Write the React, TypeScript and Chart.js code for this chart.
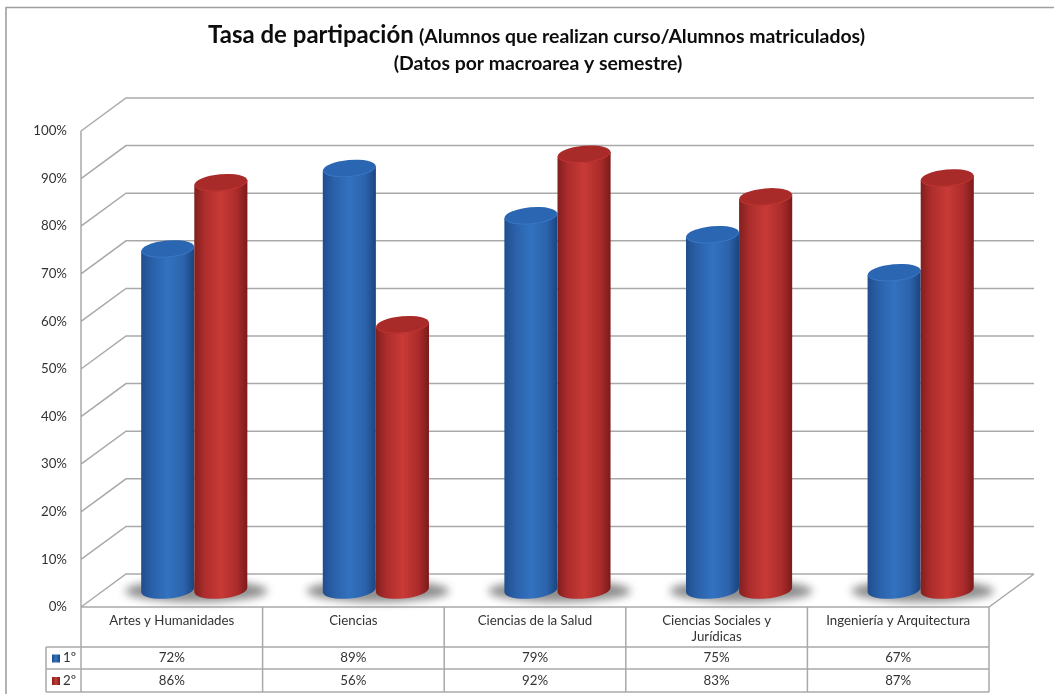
import React, { useEffect, useRef } from "react";
import { Chart, registerables } from "chart.js";

Chart.register(...registerables);

const categories = [
  "Artes y Humanidades",
  "Ciencias",
  "Ciencias de la Salud",
  ["Ciencias Sociales y", "Jurídicas"],
  "Ingeniería y Arquitectura",
];
const seriesNames = ["1º", "2º"];
const firstSemester = [72, 89, 79, 75, 67];
const secondSemester = [86, 56, 92, 83, 87];
const yTicks = [0, 10, 20, 30, 40, 50, 60, 70, 80, 90, 100];
const titleMain = "Tasa de partipación";
const titleSub = "(Alumnos que realizan curso/Alumnos matriculados)";
const titleLine2 = "(Datos por macroarea y semestre)";

const FONT = "Lato, 'Open Sans', sans-serif";
const TEXT = "#333333";
const GRID = "#a9a9a9";
const DX = 45;
const DY = 33;
const ROW1 = 647;
const ROW2 = 669;
const ROW3 = 692;
const TABLE_LEFT = 46;

const palettes = [
  { stops: ["#1f4e8e", "#2a60a8", "#3272c0", "#2c63ab", "#1a457f"], top: "#2b66b3", topEdge: "#3a78c8" },
  { stops: ["#80201f", "#ad2d2c", "#c83a36", "#ab2c2b", "#7c1a1a"], top: "#a82a29", topEdge: "#c13634" },
];

const cylinders = {
  id: "cylinders",
  beforeDatasetsDraw(chart: any) {
    const { ctx, chartArea: a, scales } = chart;
    const y = scales.y;
    ctx.save();

    // frame
    ctx.strokeStyle = "#a0a0a0";
    ctx.lineWidth = 1.6;
    ctx.beginPath();
    ctx.moveTo(6, 694);
    ctx.lineTo(6, 7.5);
    ctx.lineTo(1054, 7.5);
    ctx.stroke();

    // walls
    ctx.strokeStyle = GRID;
    ctx.lineWidth = 1.5;
    ctx.beginPath();
    for (const t of yTicks) {
      const p = y.getPixelForValue(t);
      ctx.moveTo(a.left, p);
      ctx.lineTo(a.left + DX, p - DY);
      ctx.lineTo(a.right + DX, p - DY);
    }
    ctx.moveTo(a.left, a.top);
    ctx.lineTo(a.left, a.bottom);
    ctx.moveTo(a.left, a.bottom);
    ctx.lineTo(a.right, a.bottom);
    ctx.lineTo(a.right + DX, a.bottom - DY);
    ctx.stroke();

    // floor shadows
    const m0 = chart.getDatasetMeta(0).data;
    const m1 = chart.getDatasetMeta(1).data;
    m0.forEach((b: any, i: number) => {
      const r = m1[i];
      const left = b.x - b.width / 2 + DX / 2;
      const right = r.x + r.width / 2 + DX / 2;
      ctx.save();
      ctx.filter = "blur(4px)";
      ctx.fillStyle = "#8e8e8e";
      ctx.beginPath();
      ctx.ellipse((left + right) / 2 + 2, a.bottom - 16, (right - left) / 2 + 18, 11, 0, 0, Math.PI * 2);
      ctx.fill();
      ctx.restore();
    });

    // cylinders
    [m0, m1].forEach((meta: any[], ds: number) => {
      const pal = palettes[ds];
      meta.forEach((b: any) => {
        const w = b.width;
        const cx = b.x + DX / 2;
        const bot = b.base - DY / 2 - 0.5;
        const top = bot - (b.base - b.y) * 0.995;
        const rx = w / 2;
        const ry = 8.5;
        const tilt = -0.09;
        const g = ctx.createLinearGradient(cx - rx, 0, cx + rx, 0);
        pal.stops.forEach((c, k) => g.addColorStop([0, 0.2, 0.5, 0.8, 1][k], c));
        ctx.fillStyle = g;
        ctx.beginPath();
        ctx.moveTo(cx - rx, top + 2.4);
        ctx.lineTo(cx - rx, bot + 2.4);
        ctx.ellipse(cx, bot, rx, ry, tilt, Math.PI, 0, true);
        ctx.lineTo(cx + rx, top - 2.4);
        ctx.closePath();
        ctx.fill();
        ctx.fillStyle = pal.top;
        ctx.beginPath();
        ctx.ellipse(cx, top, rx, ry, tilt, 0, Math.PI * 2);
        ctx.fill();
        ctx.strokeStyle = pal.topEdge;
        ctx.lineWidth = 1;
        ctx.beginPath();
        ctx.ellipse(cx, top, rx - 0.5, ry - 0.5, tilt, 0, Math.PI);
        ctx.stroke();
      });
    });

    ctx.restore();
    return false;
  },
  afterDraw(chart: any) {
    const { ctx, chartArea: a, scales } = chart;
    const x = scales.x;
    const colW = (a.right - a.left) / categories.length;
    ctx.save();

    // title
    ctx.fillStyle = "#0d0d0d";
    ctx.textBaseline = "alphabetic";
    ctx.textAlign = "left";
    ctx.font = `bold 24px ${FONT}`;
    ctx.fillText(titleMain, 208, 43);
    ctx.font = `bold 19.4px ${FONT}`;
    ctx.fillText(titleSub, 419, 43);
    ctx.textAlign = "center";
    ctx.fillText(titleLine2, 538, 70);

    // data table
    ctx.strokeStyle = GRID;
    ctx.lineWidth = 1.5;
    ctx.beginPath();
    for (let i = 0; i <= categories.length; i++) {
      const px = a.left + i * colW;
      ctx.moveTo(px, a.bottom);
      ctx.lineTo(px, ROW3);
    }
    for (const r of [ROW1, ROW2, ROW3]) {
      ctx.moveTo(TABLE_LEFT, r);
      ctx.lineTo(a.right, r);
    }
    ctx.moveTo(TABLE_LEFT, ROW1);
    ctx.lineTo(TABLE_LEFT, ROW3);
    ctx.stroke();

    ctx.fillStyle = TEXT;
    ctx.font = `13.3px ${FONT}`;
    ctx.textAlign = "center";
    ctx.textBaseline = "middle";
    categories.forEach((c, i) => {
      const cx = x.getPixelForValue(i);
      if (Array.isArray(c)) {
        c.forEach((line, k) => ctx.fillText(line, cx, 621 + k * 16));
      } else {
        ctx.fillText(c, cx, 621);
      }
    });
    [firstSemester, secondSemester].forEach((vals, s) => {
      const cy = s === 0 ? (ROW1 + ROW2) / 2 : (ROW2 + ROW3) / 2;
      vals.forEach((v, i) => ctx.fillText(`${v}%`, x.getPixelForValue(i), cy));
      const key = ctx.createLinearGradient(52, 0, 60, 0);
      key.addColorStop(0, palettes[s].stops[0]);
      key.addColorStop(0.5, palettes[s].stops[2]);
      key.addColorStop(1, palettes[s].stops[4]);
      ctx.fillStyle = key;
      ctx.fillRect(52, cy - 3.5, 8, 8);
      ctx.fillStyle = TEXT;
      ctx.textAlign = "left";
      ctx.fillText(seriesNames[s], 63, cy);
      ctx.textAlign = "center";
    });
    ctx.restore();
  },
};

export default function App() {
  const ref = useRef<HTMLCanvasElement>(null);
  useEffect(() => {
    const chart = new Chart(ref.current as HTMLCanvasElement, {
      type: "bar",
      data: {
        labels: categories as any,
        datasets: [
          { label: seriesNames[0], data: firstSemester, backgroundColor: "#2a62ad" },
          { label: seriesNames[1], data: secondSemester, backgroundColor: "#b02c2c" },
        ],
      },
      options: {
        responsive: false,
        animation: false,
        devicePixelRatio: 1,
        layout: { padding: { top: 131, right: 65, bottom: 87, left: 0 } },
        datasets: { bar: { categoryPercentage: 0.585, barPercentage: 1 } },
        plugins: { legend: { display: false }, title: { display: false }, tooltip: { enabled: false } },
        scales: {
          x: { display: false, grid: { display: false } },
          y: {
            min: 0,
            max: 100,
            afterFit: (s: any) => { s.width = 81; },
            afterBuildTicks: (s: any) => { s.ticks = yTicks.map((value) => ({ value })); },
            grid: { display: false },
            border: { display: false },
            ticks: {
              padding: 6,
              color: TEXT,
              font: { family: FONT, size: 13.3 },
              callback: (v: any) => `${v}%`,
            },
          },
        },
      },
      plugins: [cylinders],
    } as any);
    return () => chart.destroy();
  }, []);
  return (
    <div style={{ position: "fixed", left: 0, top: 0, width: 1054, height: 694, background: "#fff", overflow: "hidden" }}>
      <canvas ref={ref} width={1054} height={694} style={{ display: "block", filter: "blur(0.4px)" }} />
    </div>
  );
}
